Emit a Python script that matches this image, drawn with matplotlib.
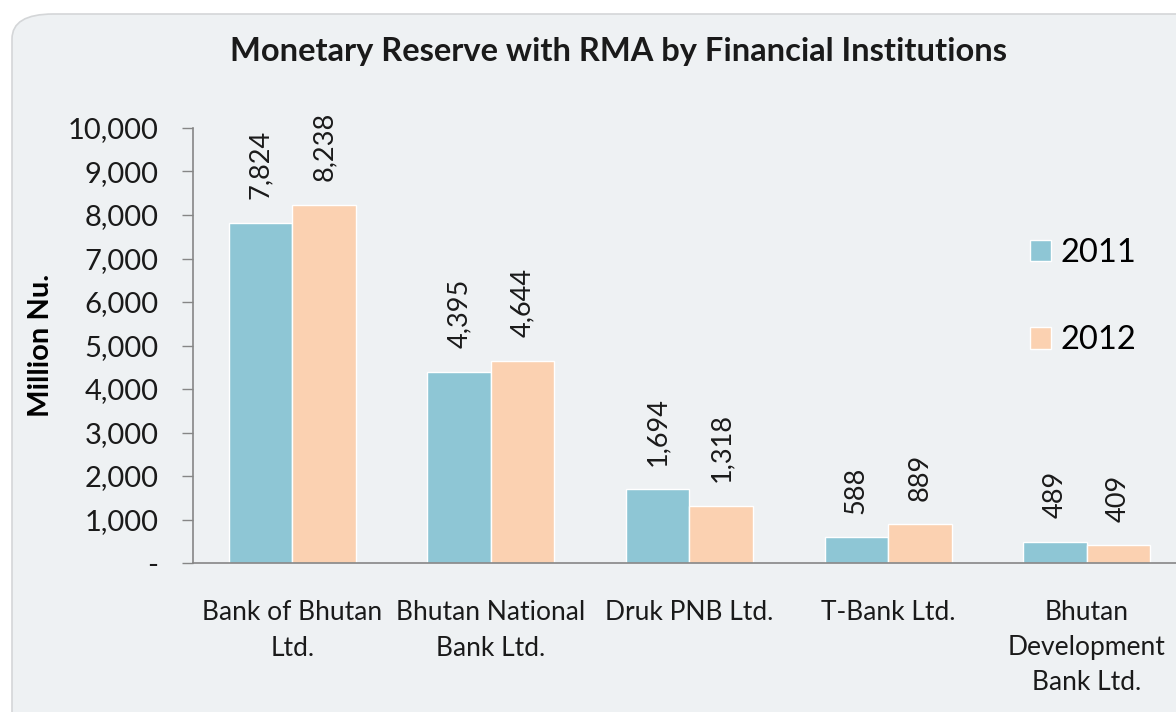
import matplotlib.pyplot as plt
import numpy as np
from matplotlib.patches import FancyBboxPatch

banks = ["Bank of Bhutan\nLtd.", "Bhutan National\nBank Ltd.", "Druk PNB Ltd.",
         "T-Bank Ltd.", "Bhutan\nDevelopment\nBank Ltd."]
reserve_2011 = [7824, 4395, 1694, 588, 489]
reserve_2012 = [8238, 4644, 1318, 889, 409]
yticks = [0, 1000, 2000, 3000, 4000, 5000, 6000, 7000, 8000, 9000, 10000]
ytick_labels = ["-", "1,000", "2,000", "3,000", "4,000", "5,000",
                "6,000", "7,000", "8,000", "9,000", "10,000"]

plt.rcParams['font.family'] = ['Lato', 'DejaVu Sans']

bg = "#eef1f3"
c2011 = "#8ec6d5"
c2012 = "#fbd1b1"

fig = plt.figure(figsize=(11.76, 7.12), dpi=100)
fig.patch.set_facecolor("white")

# rounded grey panel (runs off right and bottom edges)
panel = FancyBboxPatch((12 / 1176, -0.1), 1.2, 1.1 - 14 / 712,
                       boxstyle="round,pad=0,rounding_size=0.035",
                       transform=fig.transFigure, facecolor=bg,
                       edgecolor="#d4d6d8", linewidth=1.2, zorder=-5)
fig.patches.append(panel)

ax = fig.add_axes([193 / 1176, 149 / 712, 993 / 1176, 435 / 712])
ax.set_zorder(2)
ax.patch.set_alpha(0)

x = np.arange(len(banks))
w = 0.32
b1 = ax.bar(x - w / 2, reserve_2011, w, color=c2011, edgecolor="white",
            linewidth=1, label="2011")
b2 = ax.bar(x + w / 2, reserve_2012, w, color=c2012, edgecolor="white",
            linewidth=1, label="2012")

for bars, vals in ((b1, reserve_2011), (b2, reserve_2012)):
    for r, v in zip(bars, vals):
        ax.annotate(f"{v:,}", (r.get_x() + r.get_width() / 2, v),
                    xytext=(0, 17), textcoords="offset points",
                    rotation=90, ha="center", va="bottom", fontsize=19.5,
                    color="#1a1a1a")

ax.set_xlim(-0.5, 4.5)
ax.set_ylim(0, 10000)
ax.set_yticks(yticks)
ax.set_yticklabels(ytick_labels, fontsize=21, color="#1a1a1a")
ax.set_xticks(x)
ax.set_xticklabels(banks, fontsize=19, color="#1a1a1a", linespacing=1.5)
ax.tick_params(axis="x", length=0, pad=27)
ax.tick_params(axis="y", length=8, width=1, color="#868686", pad=17)
for s in ("top", "right"):
    ax.spines[s].set_visible(False)
for s in ("left", "bottom"):
    ax.spines[s].set_color("#868686")
    ax.spines[s].set_linewidth(1.2)

ax.set_ylabel("Million Nu.", fontsize=21, fontweight="bold", labelpad=10)

fig.text(618 / 1176, 1 - 52 / 712, "Monetary Reserve with RMA by Financial Institutions",
         ha="center", va="center", fontsize=23.5, fontweight="bold", color="#1a1a1a")

leg = ax.legend(loc="upper left", bbox_to_anchor=(1001 / 1176, 1 - 209 / 712),
                bbox_transform=fig.transFigure, frameon=False, fontsize=23.5,
                handlelength=0.62, handleheight=0.62, handletextpad=0.3,
                labelspacing=1.75)

fig.savefig("out.png", dpi=100, facecolor="white")
